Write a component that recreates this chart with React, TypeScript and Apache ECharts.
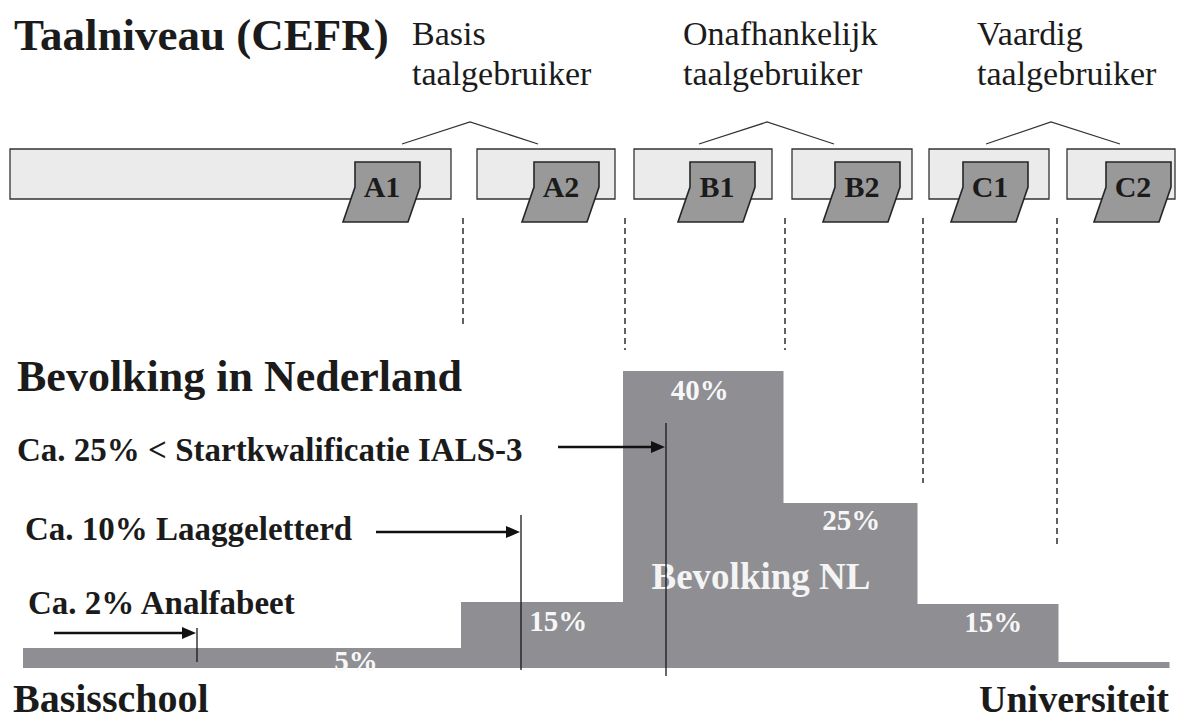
import React, { useEffect, useRef } from "react";
import * as echarts from "echarts";

// ---------- data ----------
// Bevolking in Nederland (histogram, edges on a horizontal scale, visual step heights)
const bevolkingGrenzen = [0, 438, 600, 760, 894, 1035, 1146];
const bevolkingHoogte = [20, 66, 297, 165, 64, 6];
const bevolkingLabels = ["5%", "15%", "40%", "25%", "15%", ""];

// CEFR niveaus
const niveaus = ["A1", "A2", "B1", "B2", "C1", "C2"];
const niveauVan = [-13, 454, 611, 769, 906, 1044];
const niveauTot = [428, 592, 749, 889, 1026, 1152];
const niveauBadge = [332, 511, 667, 812, 940, 1083];

// Groepen taalgebruikers
const groepen = ["Basis\ntaalgebruiker", "Onafhankelijk\ntaalgebruiker", "Vaardig\ntaalgebruiker"];
const groepLinks = [379, 676, 963];
const groepTop = [447, 744, 1028];
const groepRechts = [515, 811, 1097];
const groepTekstX = [389, 660, 954];

// Grenzen tussen de niveaus (gestippeld)
const grensX = [440, 602, 762, 900, 1034];
const grensOnder = [340, 318, 318, 185, 121];

// Annotaties
const annotaties = ["Ca. 2% Analfabeet", "Ca. 10% Laaggeletterd", "Ca. 25% < Startkwalificatie IALS-3"];
const annotatieX = [174, 498, 643];

// ---------- layout (not data) ----------
const labelFrac = [0.76, 0.6, 0.48, 0.51, 0.54, 0.5];
const labelDy = [13, 19, 19, 17, 18, 0];
const annLijnTop = [40, 153, 245];
const annLijnOnder = [6, -2, -8];
const annPijlStart = [31, 353, 535];
const annPijlY = [35, 136, 221];
const annTekstX = [5, 2, -6];
const annTekstY = [65, 139, 218];

const SERIF = "'Liberation Serif', 'Times New Roman', 'DejaVu Serif', serif";
const DARK = "#1b1b1b";
const BAR = "#8e8e93";

export default function App() {
  const ref = useRef<HTMLDivElement>(null);
  useEffect(() => {
    document.body.style.margin = "0";
    const chart = echarts.init(ref.current!, null, { renderer: "svg" });

    const txt = (text: string, x: number, y: number, size: number, weight: string, align: string, fill = DARK, extra: any = {}) => ({
      type: "text",
      style: {
        text, x, y, fill, fontSize: size, fontWeight: weight, fontFamily: SERIF,
        textAlign: align, align, textVerticalAlign: "middle", verticalAlign: "middle", ...extra,
      },
    });

    const option: any = {
      animation: false,
      backgroundColor: "#ffffff",
      grid: { left: 23, right: 12, top: 371, bottom: 52 },
      xAxis: { type: "value", min: 0, max: 1146, show: false },
      yAxis: { type: "value", min: 0, max: 297, show: false },
      tooltip: { show: false },
      series: [
        // Top: CEFR boxes and badges
        {
          type: "custom",
          name: "niveaus",
          silent: true,
          z: 2,
          data: niveaus.map((n, i) => [niveauVan[i], niveauTot[i], niveauBadge[i]]),
          renderItem: (params: any, api: any) => {
            const i = params.dataIndex;
            const a = api.coord([api.value(0), 519]);
            const b = api.coord([api.value(1), 469]);
            const bx = api.value(2);
            const p = (x: number, y: number) => api.coord([x, y]);
            const pts = [p(bx, 506), p(bx + 65, 506), p(bx + 65, 481), p(bx + 53, 446), p(bx - 12, 446), p(bx, 481)];
            const c = p(bx + 27, 482);
            return {
              type: "group",
              children: [
                { type: "rect", shape: { x: a[0], y: a[1], width: b[0] - a[0], height: b[1] - a[1] }, style: { fill: "#ebebeb", stroke: "#333", lineWidth: 1.3 } },
                { type: "polygon", shape: { points: pts }, style: { fill: "#999999", stroke: "#262626", lineWidth: 1.6 } },
                txt(niveaus[i], c[0], c[1], 30, "bold", "center"),
              ],
            };
          },
        },
        // Groups: brackets and labels
        {
          type: "custom",
          name: "groepen",
          silent: true,
          z: 2,
          data: groepen.map((g, i) => [groepLinks[i], groepTop[i], groepRechts[i], groepTekstX[i]]),
          renderItem: (params: any, api: any) => {
            const i = params.dataIndex;
            const l = api.coord([api.value(0), 524]);
            const t = api.coord([api.value(1), 546]);
            const r = api.coord([api.value(2), 524]);
            const tp = api.coord([api.value(3), 633]);
            return {
              type: "group",
              children: [
                { type: "polyline", shape: { points: [l, t, r] }, style: { fill: "none", stroke: "#333", lineWidth: 1.3 } },
                txt(groepen[i], tp[0], tp[1], 34, "normal", "left", DARK, { textVerticalAlign: "top", verticalAlign: "top", lineHeight: 40, y: tp[1] - 22 }),
              ],
            };
          },
        },
        // Dashed boundaries
        {
          type: "custom",
          name: "grenzen",
          silent: true,
          z: 2,
          data: grensX.map((x, i) => [x, 450, grensOnder[i]]),
          renderItem: (params: any, api: any) => {
            const a = api.coord([api.value(0), api.value(1)]);
            const b = api.coord([api.value(0), api.value(2)]);
            return { type: "line", shape: { x1: a[0], y1: a[1], x2: b[0], y2: b[1] }, style: { stroke: "#2d2d2d", lineWidth: 1.5, lineDash: [6, 4] } };
          },
        },
        // Histogram
        {
          type: "custom",
          name: "Bevolking NL",
          silent: true,
          z: 3,
          data: bevolkingHoogte.map((h, i) => [bevolkingGrenzen[i], bevolkingGrenzen[i + 1], h]),
          renderItem: (params: any, api: any) => {
            const i = params.dataIndex;
            const tl = api.coord([api.value(0), api.value(2)]);
            const br = api.coord([api.value(1), 0]);
            const children: any[] = [
              { type: "rect", shape: { x: tl[0], y: tl[1], width: br[0] - tl[0] + 0.5, height: br[1] - tl[1] }, style: { fill: BAR } },
            ];
            if (bevolkingLabels[i]) {
              children.push(txt(bevolkingLabels[i], tl[0] + (br[0] - tl[0]) * labelFrac[i], tl[1] + labelDy[i], 29, "bold", "center", "#f7f7f7"));
            }
            return { type: "group", children };
          },
        },
        // Annotations
        {
          type: "custom",
          name: "annotaties",
          silent: true,
          z: 6,
          data: annotaties.map((a, i) => [annotatieX[i], annLijnTop[i], annLijnOnder[i]]),
          renderItem: (params: any, api: any) => {
            const i = params.dataIndex;
            const top = api.coord([api.value(0), api.value(1)]);
            const bot = api.coord([api.value(0), api.value(2)]);
            const s = api.coord([annPijlStart[i], annPijlY[i]]);
            const tip = [top[0] - 1, s[1]];
            const tp = api.coord([annTekstX[i], annTekstY[i]]);
            return {
              type: "group",
              children: [
                txt(annotaties[i], tp[0], tp[1], 33, "bold", "left"),
                { type: "line", shape: { x1: s[0], y1: s[1], x2: tip[0] - 9, y2: tip[1] }, style: { stroke: "#111", lineWidth: 2.4 } },
                { type: "polygon", shape: { points: [tip, [tip[0] - 14, tip[1] - 6], [tip[0] - 14, tip[1] + 6]] }, style: { fill: "#111" } },
                { type: "line", shape: { x1: top[0], y1: top[1], x2: bot[0], y2: bot[1] }, style: { stroke: "#1a1a1a", lineWidth: 1.3 } },
              ],
            };
          },
        },
      ],
      graphic: [
        { ...txt("Taalniveau (CEFR)", 14, 35, 45, "bold", "left"), z: 5 },
        { ...txt("Bevolking in Nederland", 17, 376, 44, "bold", "left"), z: 5 },
        { ...txt("Bevolking NL", 761, 576, 37, "bold", "center", "#f4f4f4"), z: 5 },
        { ...txt("Basisschool", 13, 698, 40, "bold", "left"), z: 5 },
        { ...txt("Universiteit", 1169, 699, 38, "bold", "right"), z: 5 },
      ],
    };
    chart.setOption(option);
    return () => chart.dispose();
  }, []);
  return <div ref={ref} style={{ width: 1181, height: 720 }} />;
}
